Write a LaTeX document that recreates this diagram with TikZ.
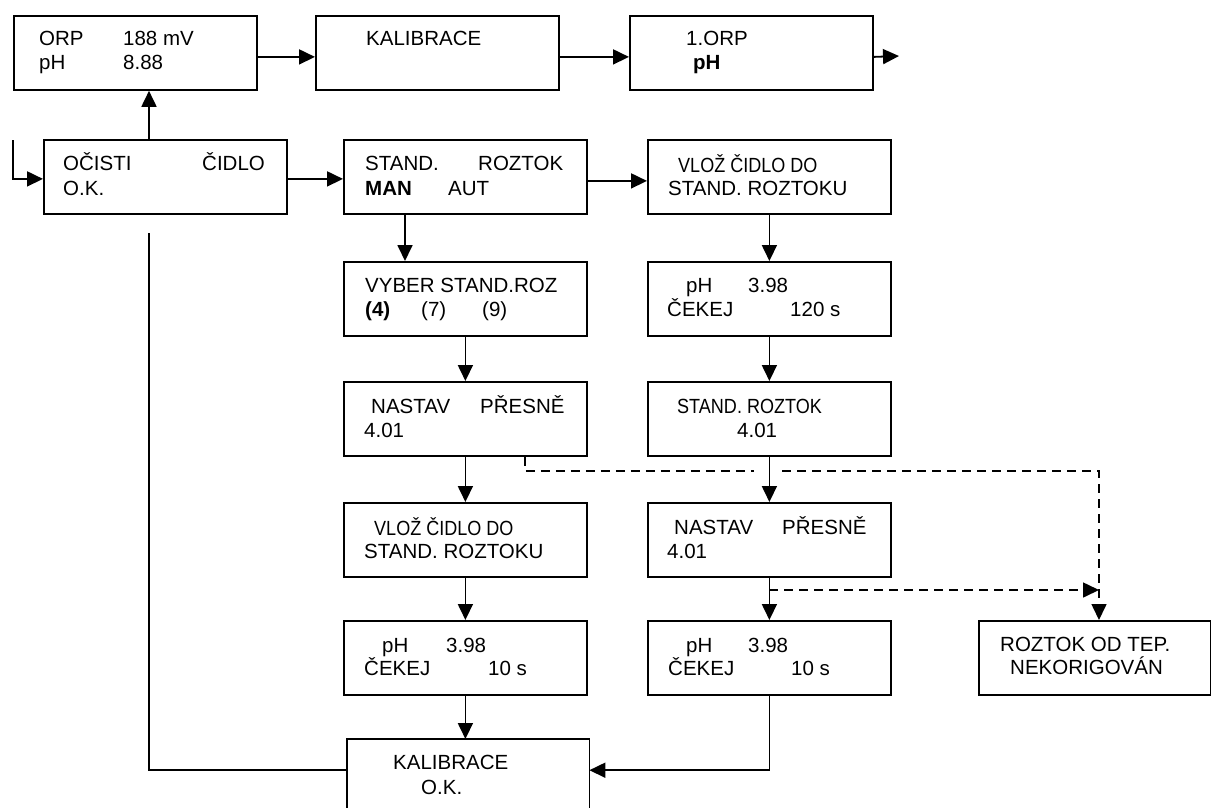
\documentclass[tikz,border=0pt]{standalone}
\usepackage{fontspec}
\setmainfont{Liberation Sans}
\newfontfamily\narrowfont[FakeStretch=0.88]{Liberation Sans}
\usetikzlibrary{arrows.meta}
\begin{document}
\begin{tikzpicture}[x=1pt,y=-1pt,
  box/.style={draw,line width=1.8pt,minimum width=243pt,minimum height=74pt,inner sep=0pt,anchor=north west},
  txt/.style={anchor=base west,inner sep=0pt,font=\fontsize{20.5}{24}\selectfont},
  ntxt/.style={anchor=base west,inner sep=0pt,font=\narrowfont\fontsize{20.5}{24}\selectfont},
  ln/.style={line width=1.8pt},
  arr/.style={line width=1.8pt,-{Triangle[length=16pt,width=15pt]}},
  dsh/.style={line width=1.6pt,dash pattern=on 9pt off 6pt},
  darr/.style={dsh,-{Triangle[length=16pt,width=15pt]}}]
\useasboundingbox (0,0) rectangle (1211,807);

% boxes
\node[box] (orp) at (13,15) {};
\node[box] (kal) at (315,15) {};
\node[box] (sel) at (629,15) {};
\node[box] (oci) at (43,139) {};
\node[box] (std) at (343,139) {};
\node[box] (vl1) at (647,139) {};
\node[box] (vyb) at (343,261) {};
\node[box] (na1) at (343,381) {};
\node[box] (vl2) at (343,502) {};
\node[box] (ph1) at (343,620) {};
\node[box] (p12) at (647,261) {};
\node[box] (sr)  at (647,381) {};
\node[box] (na2) at (647,502) {};
\node[box] (ph2) at (647,620) {};
\node[box,minimum width=232pt] (roz) at (978,620) {};
\node[inner sep=0pt,minimum width=242pt,minimum height=69pt,anchor=north west] (kok) at (347,739) {};
\draw[ln] (kok.south west) -- (kok.north west) -- (kok.north east) -- (kok.south east);

% texts
\node[txt] (t1) at (39,45) {ORP};
\node[txt] (t2) at (123,45) {188 mV};
\node[txt] (t3) at (39,69) {pH};
\node[txt] (t4) at (123,69) {8.88};
\node[txt] (t5) at (366,45) {KALIBRACE};
\node[txt] (t6) at (686,45) {1.ORP};
\node[txt] (t7) at (693,69) {\bfseries pH};
\node[txt] (t8) at (63,170) {OČISTI};
\node[txt] (t9) at (202,170) {ČIDLO};
\node[txt] (t10) at (63,195) {O.K.};
\node[txt] (t11) at (365,170) {STAND.};
\node[txt] (t12) at (478,170) {ROZTOK};
\node[txt] (t13) at (365,195) {\bfseries MAN};
\node[txt] (t14) at (448,195) {AUT};
\node[ntxt] (t15) at (678,172) {VLOŽ ČIDLO DO};
\node[txt] (t16) at (668,195) {STAND. ROZTOKU};
\node[txt] (t17) at (365,292) {VYBER STAND.ROZ};
\node[txt] (t18) at (365,316) {\bfseries (4)};
\node[txt] (t19) at (421,316) {(7)};
\node[txt] (t20) at (482,316) {(9)};
\node[txt] (t21) at (371,413) {NASTAV};
\node[txt] (t22) at (480,413) {PŘESNĚ};
\node[txt] (t23) at (364,437) {4.01};
\node[ntxt] (t24) at (374,535) {VLOŽ ČIDLO DO};
\node[txt] (t25) at (364,558) {STAND. ROZTOKU};
\node[txt] (t26) at (382,652) {pH};
\node[txt] (t27) at (446,652) {3.98};
\node[txt] (t28) at (364,675) {ČEKEJ};
\node[txt] (t29) at (488,675) {10 s};
\node[txt] (t30) at (393,769) {KALIBRACE};
\node[txt] (t31) at (421,794) {O.K.};
\node[txt] (t32) at (686,292) {pH};
\node[txt] (t33) at (748,292) {3.98};
\node[txt] (t34) at (667,316) {ČEKEJ};
\node[txt] (t35) at (790,316) {120 s};
\node[ntxt] (t36) at (677,413) {STAND. ROZTOK};
\node[txt] (t37) at (737,437) {4.01};
\node[txt] (t38) at (674,534) {NASTAV};
\node[txt] (t39) at (782,534) {PŘESNĚ};
\node[txt] (t40) at (667,558) {4.01};
\node[txt] (t41) at (686,652) {pH};
\node[txt] (t42) at (748,652) {3.98};
\node[txt] (t43) at (668,675) {ČEKEJ};
\node[txt] (t44) at (791,675) {10 s};
\node[txt] (t45) at (1000,651) {ROZTOK OD TEP.};
\node[txt] (t46) at (1010,674) {NEKORIGOVÁN};

% connectors
\coordinate (out) at (899,56);
\coordinate (up) at ([xshift=106pt]oci.north west);
\coordinate (feed) at (13,140);
\coordinate (sd) at ([xshift=62pt]std.south west);
\coordinate (back) at (149,233);
\draw[arr] ([yshift=-4pt]orp.east) -- ([yshift=-4pt]kal.west);
\draw[arr] ([yshift=-4pt]kal.east) -- ([yshift=-4pt]sel.west);
\draw[arr] ([yshift=-4pt]sel.east) -- (out);
\draw[arr] (up) -- (up |- orp.south);
\draw[arr] (feed) |- ([yshift=-2pt]oci.west);
\draw[arr] ([yshift=-2pt]oci.east) -- ([yshift=-2pt]std.west);
\draw[arr] ([yshift=-4pt]std.east) -- ([yshift=-4pt]vl1.west);
\draw[arr] (sd) -- (sd |- vyb.north);
\draw[arr] (vyb.south) -- (na1.north);
\draw[arr] (na1.south) -- (vl2.north);
\draw[arr] (vl2.south) -- (ph1.north);
\draw[arr] (ph1.south) -- (ph1.south |- kok.north);
\draw[arr] (vl1.south) -- (p12.north);
\draw[arr] (p12.south) -- (sr.north);
\draw[arr] (sr.south) -- (na2.north);
\draw[arr] (na2.south) -- (ph2.north);
\draw[arr] (ph2.south) |- ([yshift=3.5pt]kok.east);
\draw[ln] (back) |- ([yshift=3.5pt]kok.west);

% dashed
\coordinate (d0) at ([xshift=182pt]na1.south west);
\coordinate (d1) at (754,471);
\coordinate (d2) at (782,471);
\coordinate (d3) at (1099,471);
\coordinate (d4) at (769,590);
\draw[dsh] (d0) |- (d1);
\draw[darr] (d2) -- (d3) -- (d3 |- roz.north);
\draw[darr] (d4) -- (d3 |- d4);
\end{tikzpicture}
\end{document}
